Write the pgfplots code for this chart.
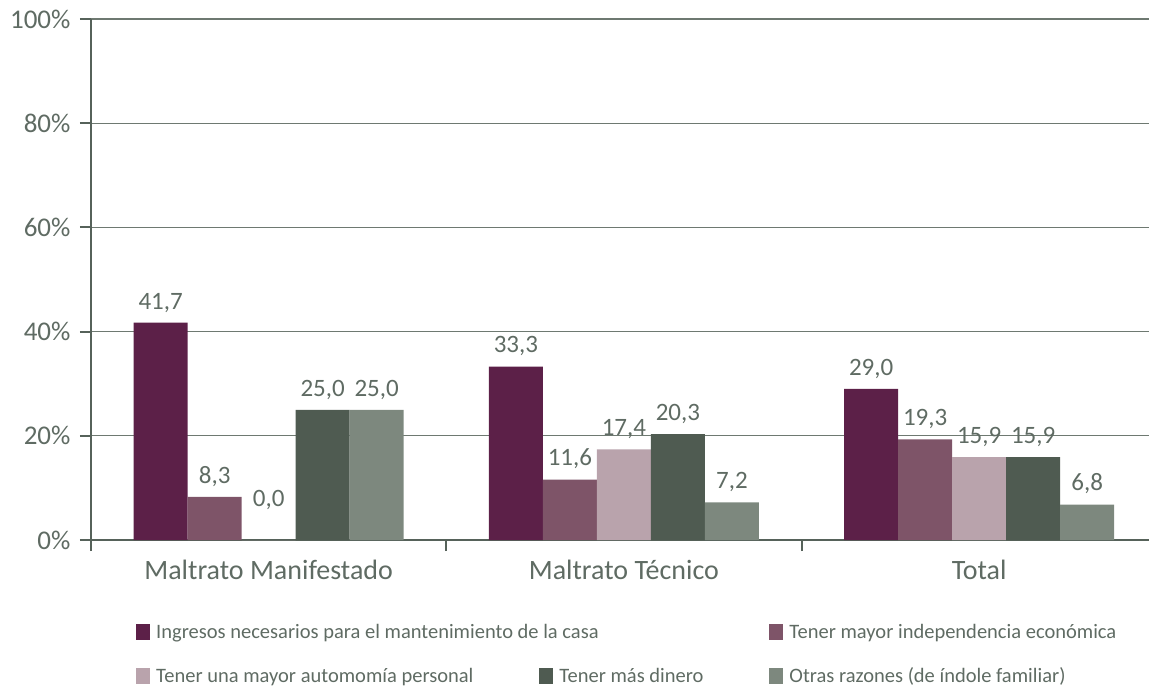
\documentclass[border=0pt]{standalone}
\usepackage{fontspec}
\setmainfont{Carlito}
\usepackage{pgfplots}
\pgfplotsset{compat=1.18}
\definecolor{cA}{HTML}{5C2048}
\definecolor{cB}{HTML}{7E5468}
\definecolor{cC}{HTML}{B9A3AC}
\definecolor{cD}{HTML}{4F5B51}
\definecolor{cE}{HTML}{7D887E}
\definecolor{txt}{HTML}{5F6B63}
\definecolor{axc}{HTML}{56625A}
\definecolor{grd}{HTML}{6E7971}
\begin{document}
\begin{tikzpicture}
\begin{axis}[
  scale only axis,
  width=1058pt, height=521pt,
  xmin=-0.5, xmax=2.478,
  ymin=0, ymax=100,
  axis x line*=bottom, axis y line*=left,
  axis line style={draw=axc, line width=2.2pt},
  ytick={0,20,...,100},
  yticklabel={\pgfmathprintnumber{\tick}\%},
  /pgf/number format/assume math mode=true,
  ymajorgrids,
  major grid style={draw=grd, line width=1.3pt},
  xtick={0,1,2},
  xticklabels={Maltrato Manifestado, Maltrato Técnico, Total},
  x tick label style={font=\fontsize{28}{32}\selectfont, text=txt, yshift=-6pt},
  y tick label style={font=\fontsize{27}{32}\selectfont, text=txt, xshift=-6pt},
  xtick style={draw=none},
  ytick style={draw=axc, line width=2pt},
  ytick align=outside, major tick length=11pt,
  extra x ticks={-0.5,0.5,1.5},
  extra x tick labels={},
  extra x tick style={grid=none, xtick style={draw=axc, line width=2pt}, xtick align=outside, major tick length=11pt},
  ybar, ybar=0pt,
  bar width=0.152,
  nodes near coords={\pgfmathprintnumber[fixed,fixed zerofill,precision=1,use comma]{\pgfplotspointmeta}},
  every node near coord/.append style={font=\fontsize{25}{30}\selectfont, text=txt, yshift=7pt},
  legend columns=3,
  legend style={at={(0.0397,-0.153)}, anchor=north west, draw=none, fill=none,
     font=\fontsize{20.5}{24}\selectfont, text=txt,
     row sep=24pt,
     /tikz/every odd column/.append style={column sep=4pt},
     /tikz/every even column/.append style={column sep=64pt}},
  legend cell align=left,
  legend image code/.code={\fill[#1] (0pt,-8pt) rectangle (14pt,8pt);},
  clip=false,
]
\addplot[fill=cA, draw=none, bar shift=-0.304, forget plot] coordinates {(0,41.7) (1,33.3) (2,29.0)};
\addplot[fill=cB, draw=none, bar shift=-0.152, forget plot] coordinates {(0,8.3) (1,11.6) (2,19.3)};
\addplot[fill=cC, draw=none, bar shift=0, forget plot, every node near coord/.append style={yshift=20pt}] coordinates {(0,0.0)};
\addplot[fill=cC, draw=none, bar shift=0, forget plot] coordinates {(1,17.4) (2,15.9)};
\addplot[fill=cD, draw=none, bar shift=0.152, forget plot] coordinates {(0,25.0) (1,20.3) (2,15.9)};
\addplot[fill=cE, draw=none, bar shift=0.304, forget plot] coordinates {(0,25.0) (1,7.2) (2,6.8)};
\addlegendimage{fill=cA, draw=none}
\addlegendentry{\rlap{Ingresos necesarios para el mantenimiento de la casa}}
\addlegendimage{empty legend}
\addlegendentry{}
\addlegendimage{fill=cB, draw=none}
\addlegendentry{Tener mayor independencia económica}
\addlegendimage{fill=cC, draw=none}
\addlegendentry{Tener una mayor automomía personal}
\addlegendimage{fill=cD, draw=none}
\addlegendentry{Tener más dinero}
\addlegendimage{fill=cE, draw=none}
\addlegendentry{Otras razones (de índole familiar)}
\end{axis}
\pgfresetboundingbox
\path ([shift={(-91pt,-148pt)}]current axis.south west) rectangle ([shift={(0pt,19pt)}]current axis.north east);
\end{tikzpicture}
\end{document}
